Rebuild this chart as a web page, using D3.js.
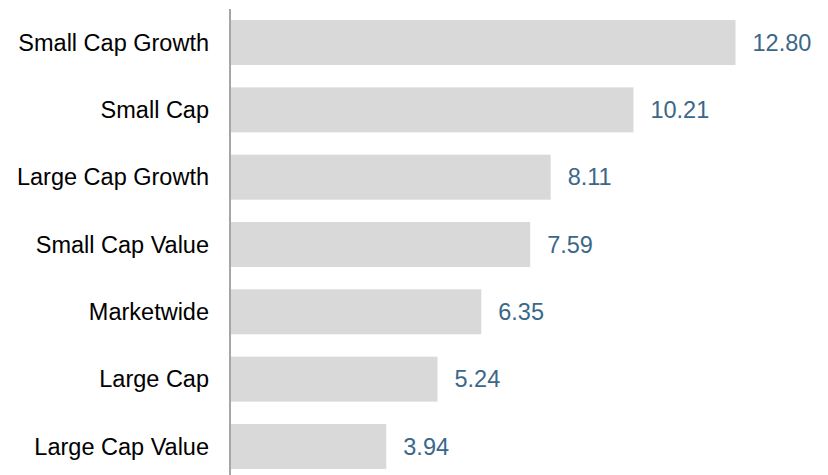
<!DOCTYPE html>
<html>
<head>
<meta charset="utf-8">
<script src="https://cdn.jsdelivr.net/npm/d3@7"></script>
<style>
  body { margin: 0; background: #fff; }
  svg { display: block; }
  text { font-family: "Liberation Sans", Arial, sans-serif; }
</style>
</head>
<body>
<script>
var categories = ["Small Cap Growth", "Small Cap", "Large Cap Growth", "Small Cap Value", "Marketwide", "Large Cap", "Large Cap Value"];
var values     = [12.80, 10.21, 8.11, 7.59, 6.35, 5.24, 3.94];

var width  = 828;
var height = 475;

var svg = d3.select("body").append("svg").attr("width", width).attr("height", height);

var data = categories.map(function(c, i){ return {name: c, value: values[i]}; });

var x = d3.scaleLinear().domain([0, 12.80]).range([231, 735.5]);
var y = d3.scaleBand().domain(categories).range([-2.3, 491.3]).padding(0.3317);

svg.append("g").selectAll("rect").data(data).enter().append("rect")
    .attr("x", x(0))
    .attr("y", function(d){ return y(d.name); })
    .attr("width", function(d){ return x(d.value) - x(0); })
    .attr("height", y.bandwidth())
    .attr("fill", "#d9d9d9");

// value labels
svg.append("g").selectAll("text").data(data).enter().append("text")
    .attr("x", function(d){ return x(d.value) + 17; })
    .attr("y", function(d){ return y(d.name) + y.bandwidth() / 2; })
    .attr("dy", "0.35em")
    .attr("font-size", "23.5px")
    .attr("fill", "#3b6788")
    .text(function(d){ return d.value.toFixed(2); });

// category labels
svg.append("g").selectAll("text").data(data).enter().append("text")
    .attr("x", 209)
    .attr("y", function(d){ return y(d.name) + y.bandwidth() / 2; })
    .attr("dy", "0.35em")
    .attr("text-anchor", "end")
    .attr("font-size", "23.5px")
    .attr("fill", "#000")
    .text(function(d){ return d.name; });

// vertical axis line
svg.append("line").attr("x1", 230).attr("y1", 9).attr("x2", 230).attr("y2", height)
    .attr("stroke", "#a6a6a6").attr("stroke-width", 2);
</script>
</body>
</html>
